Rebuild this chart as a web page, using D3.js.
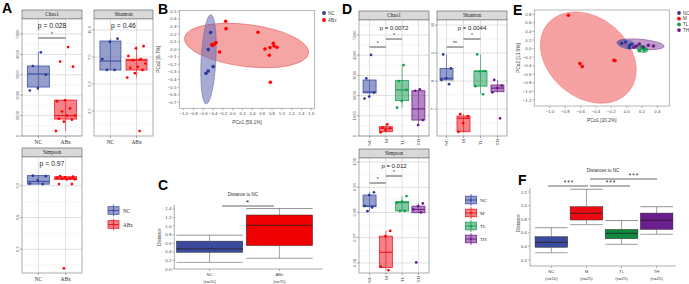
<!DOCTYPE html>
<html><head><meta charset="utf-8">
<script src="https://cdn.jsdelivr.net/npm/d3@7"></script>
<style>body{margin:0;background:#fff} svg{display:block}</style>
</head><body>
<script>
// ================= DATA =================
const groupsA = ["NC","ABx"];
const groupsD = ["NC","M","TL","TH"];

// Panel A (alpha diversity, NC vs ABx)
const chao1A = [{lo:2230,q1:2400,med:3040,q3:3430,hi:4120},{lo:250,q1:830,med:1000,q3:1760,hi:1760}];
const chao1A_pts = [[4100,3430,3000,2350,2230],[4360,3650,3400,1750,1700,1350,1200,1000,1000,850,800,700,250]];
const shannonA = [{lo:6.3,q1:6.3,med:7.13,q3:8.98,hi:9.2},{lo:5.6,q1:6.3,med:7.2,q3:7.3,hi:8.5}];
const shannonA_pts = [[9.2,8.9,7.3,6.3,6.3],[8.5,8.3,7.6,7.3,7.2,6.9,6.6,6.5,6.3,6.0,5.6,0.65]];
const simpsonA = [{lo:0.915,q1:0.915,med:0.94,q3:0.995,hi:0.995},{lo:0.96,q1:0.96,med:0.97,q3:0.985,hi:0.99}];
const simpsonA_pts = [[0.995,0.99,0.95,0.92,0.915],[0.99,0.985,0.98,0.975,0.97,0.965,0.96,0.96,0.915,0.915,0.12]];
const chao1A_ticks = [0,1000,2000,3000,4000,5000];
const shannonA_ticks = [2.5,5.0,7.5,10.0];
const simpsonA_ticks = [0.3,0.6,0.9];
const pA = ["p = 0.028","p = 0.46","p = 0.97"];

// Panel B (PCoA NC vs ABx)
const pcoaB_NC_x = [-0.45,-0.50,-0.40,-0.50,-0.545];
const pcoaB_NC_y = [0.22,-0.005,-0.23,-0.287,-0.318];
const pcoaB_ABx_x = [-0.145,-0.138,0.514,-0.34,-0.38,-0.41,-0.43,-0.27,0.656,0.758,0.826,0.84,0.90,0.745,0.765];
const pcoaB_ABx_y = [0.368,0.271,0.223,0.087,0.065,0.05,0.06,-0.036,0.003,0.021,0.078,0.043,0.025,-0.08,-0.436];
const ellB = [ // group, center x, center y, semi-axis (x units), semi-axis (y units), tilt deg
  {g:"ABx",cx:0.28,cy:0.049,rx:1.273,ry:0.277,a:7},
  {g:"NC",cx:-0.494,cy:-0.133,rx:0.15,ry:0.589,a:3}
];
const ticksB_x = [-1.0,-0.8,-0.6,-0.4,-0.2,0.0,0.2,0.4,0.6,0.8,1.0,1.2,1.4,1.6];
const ticksB_y = [0.5,0.4,0.3,0.2,0.1,0.0,-0.1,-0.2,-0.3,-0.4,-0.5,-0.6,-0.7];

// Panel C (distance to NC)
const groupsC = ["NC","ABx"];
const nC = ["(n=10)","(n=75)"];
const distC = [{lo:0.155,q1:0.39,med:0.47,q3:0.65,hi:0.79},{lo:0.25,q1:0.545,med:1.02,q3:1.26,hi:1.41}];
const ticksC = [0.0,0.2,0.4,0.6,0.8,1.0,1.2,1.4];

// Panel D (alpha diversity, 4 groups)
const chao1D = [{lo:1950,q1:2130,med:2180,q3:2770,hi:2800},{lo:183,q1:213,med:380,q3:460,hi:580},
  {lo:1400,q1:1750,med:2280,q3:2740,hi:3510},{lo:545,q1:790,med:1340,q3:2240,hi:2310}];
const chao1D_pts = [[4010,2850,2150,1950,1850],[580,420,380,297,183],[3510,2720,2280,1730,1400],[2310,2240,790,545]];
const shannonD = [{lo:8.04,q1:8.04,med:8.1,q3:8.45,hi:8.95},{lo:6.19,q1:6.19,med:6.67,q3:6.75,hi:6.82},
  {lo:7.53,q1:7.82,med:8.35,q3:8.36,hi:8.95},{lo:7.6,q1:7.62,med:7.75,q3:7.86,hi:8.04}];
const shannonD_pts = [[8.95,8.45,8.1,8.04,7.89],[6.82,6.75,6.5,6.19],[8.95,8.36,8.35,7.82,7.53],[8.04,7.84,7.75,7.6,6.67]];
const simpsonD = [{lo:0.9805,q1:0.9823,med:0.9826,q3:0.9869,hi:0.988},{lo:0.9571,q1:0.9582,med:0.9642,q3:0.9706,hi:0.9727},
  {lo:0.9806,q1:0.9806,med:0.9839,q3:0.9843,hi:0.9865},{lo:0.9799,q1:0.9799,med:0.9812,q3:0.9825,hi:0.9836}];
const simpsonD_pts = [[0.988,0.9869,0.9826,0.982,0.9805],[0.9727,0.9706,0.9585,0.9571],[0.9865,0.9843,0.9839,0.9806,0.9806],[0.9836,0.9825,0.9812,0.98,0.9602]];
const chao1D_ticks = [0,1000,2000,3000,4000,5000];
const shannonD_ticks = [7,8,9,10];
const simpsonD_ticks = [0.96,0.97,0.98,0.99,1.00];
const pD = ["p = 0.0072","p = 0.0044","p = 0.012"];

// Panel E (PCoA 4 groups)
const pcoaE = {
  NC:{x:[-0.065,-0.013,0.04,0.065,0.035], y:[0.123,0.154,0.076,0.1,0.022]},
  M:{x:[-0.76,-0.61,-0.58,-0.165,-0.152], y:[0.777,-0.35,-0.42,-0.274,-0.28]},
  TL:{x:[0.165,0.2,0.23,0.248,0.19], y:[-0.048,0.022,-0.033,-0.01,0.045]},
  TH:{x:[0.13,0.217,0.283,0.35,0.165,0.096], y:[0.06,0.037,0.076,0.06,0.107,0.03]}
};
const ellE = [
  {g:"M",cx:-0.5,cy:-0.21,rx:0.69,ry:0.93,a:40},
  {g:"TH",cx:0.18,cy:0.1,rx:0.31,ry:0.117,a:5},
  {g:"NC",cx:0.0,cy:0.1,rx:0.12,ry:0.1,a:10},
  {g:"TL",cx:0.21,cy:-0.02,rx:0.07,ry:0.07,a:10}
];
const ticksE_x = [-1.0,-0.8,-0.6,-0.4,-0.2,0.0,0.2,0.4];
const ticksE_y = [0.8,0.6,0.4,0.2,0.0,-0.2,-0.4,-0.6,-0.8,-1.0,-1.2];

// Panel F (distances to NC)
const nF = ["(n=10)","(n=25)","(n=25)","(n=25)"];
const distF = [{lo:0.307,q1:0.387,med:0.46,q3:0.543,hi:0.675},{lo:0.72,q1:0.788,med:0.887,q3:0.984,hi:1.24},
  {lo:0.43,q1:0.513,med:0.593,q3:0.65,hi:0.78},{lo:0.578,q1:0.65,med:0.784,q3:0.89,hi:0.984}];
const ticksF = [0.2,0.4,0.6,0.8,1.0,1.2];

// ================= DRAWING =================
const SERIF = "Liberation Serif, 'Times New Roman', serif";
const SANS = "Liberation Sans, Arial, sans-serif";
const colA = {NC:"#3f51a3", ABx:"#ee1c25", M:"#ee1c25", TL:"#1f9c57", TH:"#74218f"};
const colSolid = {NC:"#3b4a9c", ABx:"#ee0000", M:"#ee0a12", TL:"#0e8a3c", TH:"#6b1f8c"};
const colPt = {NC:"#2b3a9a", ABx:"#ff0000", M:"#ff0000", TL:"#12a04a", TH:"#6a1a8a"};

const svg = d3.select("body").append("svg").attr("width",689).attr("height",284)
  .style("font-family",SANS);

function jit(i){ return ((i*0.6180339887)%1) - 0.5; }

function facet(o){
  const g = svg.append("g");
  const x = d3.scalePoint().domain(o.cats).range([o.x0,o.x1]).padding(o.pad);
  const y = d3.scaleLinear().domain(o.yDomain).range([o.y1,o.y0]);
  g.append("rect").attr("x",o.x0).attr("y",o.y0-9).attr("width",o.x1-o.x0).attr("height",9)
    .attr("fill","#d9d9d9").attr("stroke","#555").attr("stroke-width",0.6);
  g.append("text").attr("x",(o.x0+o.x1)/2).attr("y",o.y0-2.8).attr("text-anchor","middle")
    .attr("font-family",SERIF).attr("font-size",5.2).attr("fill","#222").text(o.title);
  g.append("rect").attr("x",o.x0).attr("y",o.y0).attr("width",o.x1-o.x0).attr("height",o.y1-o.y0).attr("fill","#fff");
  const t = o.ticks;
  const step = t[1]-t[0];
  const minor = [];
  for(let k=-1;k<t.length;k++){ const v=(k<0?t[0]:t[k])+(k<0?-step/2:step/2); if(v>o.yDomain[0]&&v<o.yDomain[1]) minor.push(v); }
  g.selectAll(null).data(minor).join("line").attr("x1",o.x0).attr("x2",o.x1).attr("y1",d=>y(d)).attr("y2",d=>y(d))
    .attr("stroke","#eeeeee").attr("stroke-width",0.5);
  g.selectAll(null).data(t).join("line").attr("x1",o.x0).attr("x2",o.x1).attr("y1",d=>y(d)).attr("y2",d=>y(d))
    .attr("stroke","#d8d8d8").attr("stroke-width",0.8);
  g.selectAll(null).data(o.cats).join("line").attr("x1",d=>x(d)).attr("x2",d=>x(d)).attr("y1",o.y0).attr("y2",o.y1)
    .attr("stroke","#d8d8d8").attr("stroke-width",0.8);
  g.append("rect").attr("x",o.x0).attr("y",o.y0).attr("width",o.x1-o.x0).attr("height",o.y1-o.y0)
    .attr("fill","none").attr("stroke","#777").attr("stroke-width",0.6);
  t.forEach(v=>{
    g.append("line").attr("x1",o.x0-2).attr("x2",o.x0).attr("y1",y(v)).attr("y2",y(v)).attr("stroke","#555").attr("stroke-width",0.5);
    g.append("text").attr("transform",`translate(${o.x0-3},${y(v)}) rotate(-90)`).attr("text-anchor","middle")
      .attr("font-family",SERIF).attr("font-size",4.6).attr("fill","#444").text(o.fmt(v));
  });
  o.cats.forEach(c=>{
    g.append("line").attr("x1",x(c)).attr("x2",x(c)).attr("y1",o.y1).attr("y2",o.y1+2).attr("stroke","#555").attr("stroke-width",0.5);
    if(o.rot){
      g.append("text").attr("transform",`translate(${x(c)+1.8},${o.y1+3}) rotate(-90)`).attr("text-anchor","end")
        .attr("font-family",SERIF).attr("font-size",4.8).attr("fill","#333").text(c);
    } else {
      g.append("text").attr("x",x(c)).attr("y",o.y1+8).attr("text-anchor","middle")
        .attr("font-family",SERIF).attr("font-size",5.4).attr("fill","#333").text(c);
    }
  });
  o.cats.forEach((c,i)=>{
    const s=o.stats[i], cx=x(c), col=colA[c], bw=o.bw;
    g.append("line").attr("x1",cx).attr("x2",cx).attr("y1",y(s.lo)).attr("y2",y(s.hi)).attr("stroke",col).attr("stroke-width",0.8).attr("opacity",0.8);
    g.append("rect").attr("x",cx-bw/2).attr("y",y(s.q3)).attr("width",bw).attr("height",Math.max(0.8,y(s.q1)-y(s.q3)))
      .attr("fill",col).attr("fill-opacity",0.55).attr("stroke",col).attr("stroke-width",0.8);
    g.append("line").attr("x1",cx-bw/2).attr("x2",cx+bw/2).attr("y1",y(s.med)).attr("y2",y(s.med)).attr("stroke",col).attr("stroke-width",1.2);
    o.pts[i].forEach((v,j)=>{
      g.append("circle").attr("cx",cx+jit(j+o.seed)*bw*0.95).attr("cy",y(v)).attr("r",1.35).attr("fill",colPt[c]);
    });
  });
  g.append("text").attr("x",(o.x0+o.x1)/2).attr("y",o.pY).attr("text-anchor","middle").attr("font-size",o.pSize)
    .attr("fill","#222").text(o.p);
  (o.sigs||[]).forEach(s=>{
    g.append("line").attr("x1",x(s.a)).attr("x2",x(s.b)).attr("y1",s.y).attr("y2",s.y).attr("stroke","#555").attr("stroke-width",1);
    g.append("text").attr("x",(x(s.a)+x(s.b))/2).attr("y",s.y-2).attr("text-anchor","middle").attr("font-size",5).attr("fill","#222").text(s.t);
  });
  return {x,y};
}

const fmtInt = d3.format("d"), fmt1 = d3.format(".1f"), fmt2 = d3.format(".2f");

facet({x0:22,x1:82,y0:19,y1:136,title:"Chao1",cats:groupsA,pad:0.6,yDomain:[0,5735],ticks:chao1A_ticks,fmt:fmtInt,
  stats:chao1A,pts:chao1A_pts,bw:22,seed:1,p:pA[0],pY:28,pSize:6.8,sigs:[{a:"NC",b:"ABx",y:38,t:"*"}]});
facet({x0:94,x1:153,y0:19,y1:136,title:"Shannon",cats:groupsA,pad:0.63,yDomain:[0.185,11.02],ticks:shannonA_ticks,fmt:fmt1,
  stats:shannonA,pts:shannonA_pts,bw:21,seed:3,p:pA[1],pY:28,pSize:6.8});
facet({x0:22,x1:82,y0:157,y1:273,title:"Simpson",cats:groupsA,pad:0.6,yDomain:[0.076,1.171],ticks:simpsonA_ticks,fmt:fmt1,
  stats:simpsonA,pts:simpsonA_pts,bw:22,seed:2,p:pA[2],pY:166,pSize:6.8});

function boxKey(g,cx,cy,col){
  g.append("line").attr("x1",cx).attr("x2",cx).attr("y1",cy-6).attr("y2",cy+6).attr("stroke",col).attr("stroke-width",0.8);
  g.append("rect").attr("x",cx-5.5).attr("y",cy-3.8).attr("width",11).attr("height",7.6).attr("fill",col).attr("fill-opacity",0.55).attr("stroke",col).attr("stroke-width",0.8);
  g.append("line").attr("x1",cx-5.5).attr("x2",cx+5.5).attr("y1",cy).attr("y2",cy).attr("stroke",col).attr("stroke-width",1);
  g.append("circle").attr("cx",cx).attr("cy",cy).attr("r",1.3).attr("fill",col);
}
const legA = svg.append("g");
groupsA.forEach((c,i)=>{
  const cy = 210.5 + i*14;
  boxKey(legA,113.5,cy,colA[c]);
  legA.append("text").attr("x",123).attr("y",cy+2).attr("font-family",SERIF).attr("font-size",5.2).attr("fill","#333").text(c);
});

function pcoa(o){
  const g = svg.append("g");
  const x = d3.scaleLinear().domain(o.xd).range(o.xr);
  const y = d3.scaleLinear().domain(o.yd).range(o.yr);
  o.ells.forEach(e=>{
    g.append("ellipse").attr("cx",0).attr("cy",0).attr("rx",Math.abs(x(e.rx)-x(0))).attr("ry",Math.abs(y(e.ry)-y(0)))
      .attr("transform",`translate(${x(e.cx)},${y(e.cy)}) rotate(${e.a})`)
      .attr("fill",o.ellFill[e.g]).attr("stroke",o.ellStroke[e.g]).attr("stroke-width",0.6);
  });
  o.groups.forEach(gr=>{
    const d = o.pts[gr];
    d.x.forEach((xv,i)=>{
      g.append("circle").attr("cx",x(xv)).attr("cy",y(d.y[i])).attr("r",o.r).attr("fill",colPt[gr]);
    });
  });
  g.append("rect").attr("x",o.frame[0]).attr("y",o.frame[1]).attr("width",o.frame[2]-o.frame[0]).attr("height",o.frame[3]-o.frame[1])
    .attr("fill","none").attr("stroke","#999").attr("stroke-width",0.7);
  o.tx.forEach(v=>{
    g.append("line").attr("x1",x(v)).attr("x2",x(v)).attr("y1",o.frame[3]).attr("y2",o.frame[3]+2).attr("stroke","#777").attr("stroke-width",0.5);
    g.append("text").attr("x",x(v)).attr("y",o.frame[3]+7).attr("text-anchor","middle").attr("font-size",4.3).attr("fill","#444").text(fmt1(v));
  });
  o.ty.forEach(v=>{
    g.append("line").attr("x1",o.frame[0]-2).attr("x2",o.frame[0]).attr("y1",y(v)).attr("y2",y(v)).attr("stroke","#777").attr("stroke-width",0.5);
    g.append("text").attr("x",o.frame[0]-3).attr("y",y(v)+1.5).attr("text-anchor","end").attr("font-size",4.3).attr("fill","#444").text(fmt1(v));
  });
  g.append("text").attr("x",(o.frame[0]+o.frame[2])/2).attr("y",o.frame[3]+16).attr("text-anchor","middle").attr("font-size",4.8).attr("fill","#444").text(o.xl);
  g.append("text").attr("transform",`translate(${o.ylx},${(o.frame[1]+o.frame[3])/2}) rotate(-90)`).attr("text-anchor","middle").attr("font-size",4.8).attr("fill","#444").text(o.yl);
  o.groups.forEach((gr,i)=>{
    const ly = o.leg[1]+i*o.leg[2];
    g.append("circle").attr("cx",o.leg[0]).attr("cy",ly).attr("r",1.9).attr("fill",colPt[gr]);
    g.append("text").attr("x",o.leg[0]+4).attr("y",ly+1.6).attr("font-size",4.6).attr("fill","#444").text(gr);
  });
}

pcoa({xd:[-1.0,1.6],xr:[183.7,311.3],yd:[-0.7,0.5],yr:[102.3,11.3],frame:[179.3,10.3,314.7,108.3],
  ells:ellB, ellFill:{ABx:"rgba(240,100,100,0.58)",NC:"rgba(105,110,180,0.58)"}, ellStroke:{ABx:"#e05a5a",NC:"#6a70b0"},
  groups:["NC","ABx"], pts:{NC:{x:pcoaB_NC_x,y:pcoaB_NC_y},ABx:{x:pcoaB_ABx_x,y:pcoaB_ABx_y}}, r:1.8,
  tx:ticksB_x, ty:ticksB_y, xl:"PCo1 [59.1%]", yl:"PCo2 [8.7%]", ylx:160, leg:[324,13,7]});

pcoa({xd:[-1.0,0.4],xr:[550,657.3],yd:[-1.2,0.8],yr:[100,14.3],frame:[534.3,10,669.3,106],
  ells:ellE, ellFill:{M:"rgba(240,105,105,0.62)",TH:"rgba(130,60,150,0.5)",NC:"rgba(90,100,170,0.5)",TL:"rgba(40,160,90,0.5)"},
  ellStroke:{M:"#f08080",TH:"#8a4aa0",NC:"#5a64aa",TL:"#3aa060"},
  groups:["NC","M","TL","TH"], pts:pcoaE, r:1.8,
  tx:ticksE_x, ty:ticksE_y, xl:"PCo1 [20.2%]", yl:"PCo2 [13.5%]", ylx:520, leg:[679,13,5.7]});

facet({x0:359,x1:429,y0:20,y1:136,title:"Chao1",cats:groupsD,pad:0.65,yDomain:[0,5740],ticks:chao1D_ticks,fmt:fmtInt,
  stats:chao1D,pts:chao1D_pts,bw:13,seed:1,p:pD[0],pY:30,pSize:6,rot:true,
  sigs:[{a:"NC",b:"M",y:47,t:"*"},{a:"M",b:"TL",y:39,t:"*"}]});
facet({x0:437,x1:507,y0:20,y1:136,title:"Shannon",cats:groupsD,pad:0.56,yDomain:[6.04,10.18],ticks:shannonD_ticks,fmt:fmtInt,
  stats:shannonD,pts:shannonD_pts,bw:13,seed:2,p:pD[1],pY:30,pSize:6,rot:true,
  sigs:[{a:"NC",b:"M",y:47,t:"**"},{a:"M",b:"TL",y:39,t:"*"}]});
facet({x0:359,x1:429,y0:158,y1:273,title:"Simpson",cats:groupsD,pad:0.65,yDomain:[0.9560,1.0016],ticks:simpsonD_ticks,fmt:fmt2,
  stats:simpsonD,pts:simpsonD_pts,bw:13,seed:3,p:pD[2],pY:168,pSize:6,rot:true,
  sigs:[{a:"NC",b:"M",y:183,t:"*"},{a:"M",b:"TL",y:176,t:"*"}]});

const legD = svg.append("g");
groupsD.forEach((c,i)=>{
  const cy = 200 + i*13;
  boxKey(legD,471,cy,colA[c]);
  legD.append("text").attr("x",480).attr("y",cy+2).attr("font-family",SERIF).attr("font-size",5).attr("fill","#333").text(c);
});

function distPlot(o){
  const g = svg.append("g");
  const x = d3.scaleBand().domain(o.cats).range(o.xr).paddingInner(o.pi).paddingOuter(o.po);
  const y = d3.scaleLinear().domain(o.yd).range(o.yr);
  o.cats.forEach((c,i)=>{
    const s=o.stats[i], x0=x(c), bw=x.bandwidth(), cx=x0+bw/2;
    g.append("line").attr("x1",cx).attr("x2",cx).attr("y1",y(s.hi)).attr("y2",y(s.q3)).attr("stroke","#666").attr("stroke-width",0.6);
    g.append("line").attr("x1",cx).attr("x2",cx).attr("y1",y(s.q1)).attr("y2",y(s.lo)).attr("stroke","#666").attr("stroke-width",0.6);
    g.append("line").attr("x1",x0).attr("x2",x0+bw).attr("y1",y(s.hi)).attr("y2",y(s.hi)).attr("stroke","#666").attr("stroke-width",0.7);
    g.append("line").attr("x1",x0).attr("x2",x0+bw).attr("y1",y(s.lo)).attr("y2",y(s.lo)).attr("stroke","#777").attr("stroke-width",0.7);
    g.append("rect").attr("x",x0).attr("y",y(s.q3)).attr("width",bw).attr("height",y(s.q1)-y(s.q3))
      .attr("fill",colSolid[c]).attr("stroke","#333").attr("stroke-width",0.5);
    g.append("line").attr("x1",x0).attr("x2",x0+bw).attr("y1",y(s.med)).attr("y2",y(s.med)).attr("stroke","#222").attr("stroke-width",0.8);
    g.append("line").attr("x1",cx).attr("x2",cx).attr("y1",o.yr[0]).attr("y2",o.yr[0]+2).attr("stroke","#666").attr("stroke-width",0.5);
    g.append("text").attr("x",cx).attr("y",o.yr[0]+7).attr("text-anchor","middle").attr("font-size",4.3).attr("fill","#444").text(c);
    g.append("text").attr("x",cx).attr("y",o.yr[0]+14).attr("text-anchor","middle").attr("font-size",4.3).attr("fill","#444").text(o.n[i]);
  });
  g.append("line").attr("x1",o.axX).attr("x2",o.xr[1]+o.xEnd).attr("y1",o.yr[0]).attr("y2",o.yr[0]).attr("stroke","#777").attr("stroke-width",0.6);
  g.append("line").attr("x1",o.axX).attr("x2",o.axX).attr("y1",o.yr[0]).attr("y2",o.yr[1]).attr("stroke","#777").attr("stroke-width",0.6);
  o.ticks.forEach(v=>{
    g.append("line").attr("x1",o.axX-2).attr("x2",o.axX).attr("y1",y(v)).attr("y2",y(v)).attr("stroke","#777").attr("stroke-width",0.5);
    g.append("text").attr("x",o.axX-3).attr("y",y(v)+1.5).attr("text-anchor","end").attr("font-size",4.3).attr("fill","#444").text(fmt1(v));
  });
  g.append("text").attr("x",o.title[1]).attr("y",o.title[2]).attr("text-anchor","middle").attr("font-size",4.5).attr("fill","#333").text(o.title[0]);
  g.append("text").attr("transform",`translate(${o.ylab[0]},${o.ylab[1]}) rotate(-90)`).attr("text-anchor","middle").attr("font-size",4.5).attr("fill","#444").text("Distance");
  o.sigs.forEach(s=>{
    g.append("line").attr("x1",s.x1).attr("x2",s.x2).attr("y1",s.y).attr("y2",s.y).attr("stroke","#555").attr("stroke-width",0.9);
    g.append("text").attr("x",s.tx).attr("y",s.y-1.5).attr("text-anchor","middle").attr("font-size",s.fs).attr("fill","#222").attr("letter-spacing",1).text(s.t);
  });
}

distPlot({cats:groupsC,stats:distC,n:nC,xr:[175,314],pi:0.05,po:0.02,yd:[0,1.5],yr:[269,204.7],axX:174.3,xEnd:9,
  ticks:ticksC,title:["Distance to NC",243,196],ylab:[161,237],
  sigs:[{x1:222,x2:274,y:206,tx:248,t:"*",fs:8}]});

const yF = d3.scaleLinear().domain([0.2,1.2]).range([260,192]);
distPlot({cats:groupsD,stats:distF,n:nF,xr:[534,674],pi:0.07,po:0.03,yd:[0.112,1.26],yr:[yF(0.112),yF(1.26)],axX:530,xEnd:2,
  ticks:ticksF,title:["Distances to NC",603,172],ylab:[520,223],
  sigs:[{x1:548,x2:588,y:186,tx:569,t:"***",fs:6.5},{x1:590,x2:630,y:186,tx:611,t:"***",fs:6.5},{x1:590,x2:657,y:179,tx:634,t:"***",fs:6.5}]});

[["A",2,13],["B",158,14],["C",158,190],["D",342,14],["E",513,15],["F",518,185]].forEach(l=>{
  svg.append("text").attr("x",l[1]).attr("y",l[2]).attr("font-size",14).attr("font-weight","bold").attr("fill","#000").text(l[0]);
});
</script>
</body></html>
